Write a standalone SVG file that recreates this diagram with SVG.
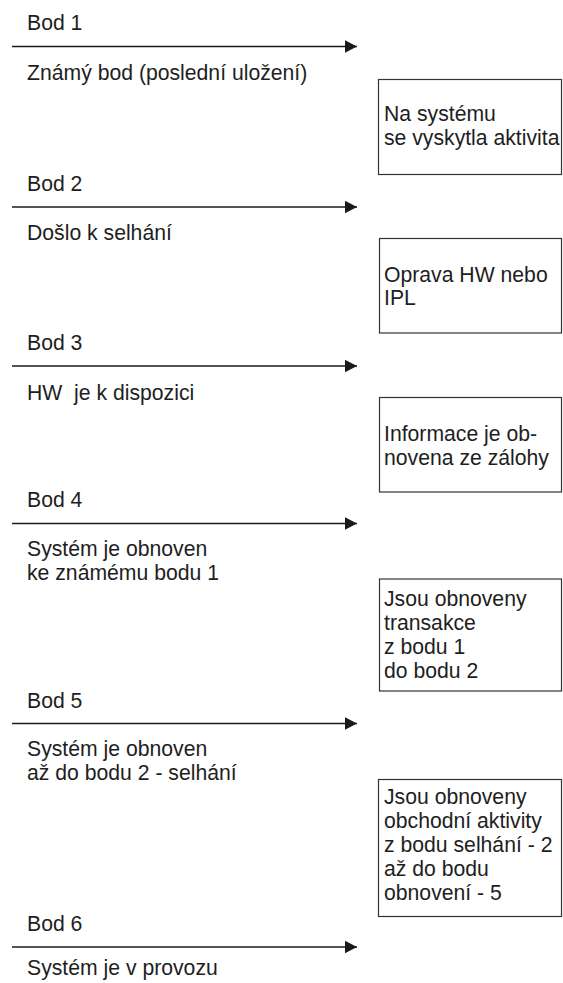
<svg xmlns="http://www.w3.org/2000/svg" width="563" height="983" viewBox="0 0 563 983">
<defs>
<marker id="ah" markerWidth="13" markerHeight="13" refX="12.5" refY="6.5" orient="auto" markerUnits="userSpaceOnUse">
<path d="M0,0 L12.5,6.5 L0,13 Z" fill="#1a1a1a"/>
</marker>
</defs>
<style>
text{font-family:"Liberation Sans",Arial,sans-serif;font-size:21.2px;fill:#1e1e1e}
.box{fill:#fff;stroke:#333;stroke-width:1.2}
.arr{stroke:#1a1a1a;stroke-width:1.4;fill:none}
</style>
<rect width="563" height="983" fill="#fff"/>
<g id="connectors">
<line class="arr" x1="12" y1="46.5" x2="357" y2="46.5" marker-end="url(#ah)"/>
<line class="arr" x1="12" y1="207" x2="357" y2="207" marker-end="url(#ah)"/>
<line class="arr" x1="12" y1="366" x2="357" y2="366" marker-end="url(#ah)"/>
<line class="arr" x1="12" y1="523.5" x2="357" y2="523.5" marker-end="url(#ah)"/>
<line class="arr" x1="12" y1="723.5" x2="357" y2="723.5" marker-end="url(#ah)"/>
<line class="arr" x1="12" y1="947" x2="357" y2="947" marker-end="url(#ah)"/>
</g>
<g id="bod1"><text x="27" y="30">Bod 1</text><text x="27" y="80">Známý bod (poslední uložení)</text></g>
<g id="bod2"><text x="27" y="190.5">Bod 2</text><text x="27" y="240">Došlo k selhání</text></g>
<g id="bod3"><text x="27" y="349.5">Bod 3</text><text x="27" y="399.5" xml:space="preserve">HW  je k dispozici</text></g>
<g id="bod4"><text x="27" y="507">Bod 4</text><text x="27" y="556">Systém je obnoven</text><text x="27" y="580">ke známému bodu 1</text></g>
<g id="bod5"><text x="27" y="707.5">Bod 5</text><text x="27" y="756">Systém je obnoven</text><text x="27" y="780">až do bodu 2 - selhání</text></g>
<g id="bod6"><text x="27" y="930.5">Bod 6</text><text x="27" y="975">Systém je v provozu</text></g>
<g id="box1"><rect class="box" x="378.5" y="79.5" width="183" height="95"/><text x="384" y="120.5">Na systému</text><text x="384" y="144.5">se vyskytla aktivita</text></g>
<g id="box2"><rect class="box" x="379.5" y="238.5" width="182" height="94.5"/><text x="384" y="281.5">Oprava HW nebo</text><text x="384" y="305">IPL</text></g>
<g id="box3"><rect class="box" x="379.5" y="397.5" width="182" height="94.5"/><text x="384" y="440.5">Informace je ob-</text><text x="384" y="464.5">novena ze zálohy</text></g>
<g id="box4"><rect class="box" x="379.5" y="579" width="182" height="112"/><text x="384" y="606">Jsou obnoveny</text><text x="384" y="630">transakce</text><text x="384" y="654">z bodu 1</text><text x="384" y="678">do bodu 2</text></g>
<g id="box5"><rect class="box" x="378.5" y="779.5" width="183" height="137"/><text x="384" y="804">Jsou obnoveny</text><text x="384" y="828">obchodní aktivity</text><text x="384" y="852">z bodu selhání - 2</text><text x="384" y="876">až do bodu</text><text x="384" y="900">obnovení - 5</text></g>
</svg>
